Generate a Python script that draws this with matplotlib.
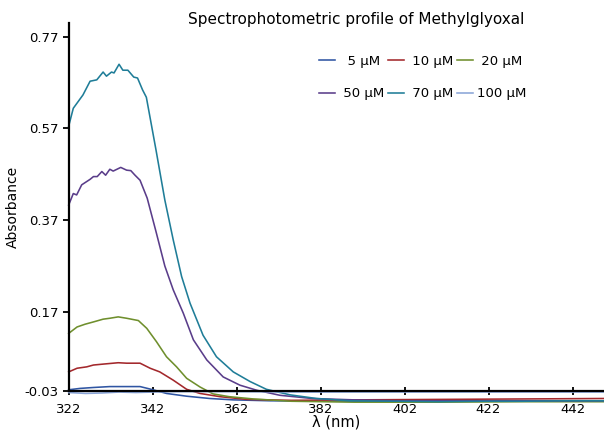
import matplotlib
matplotlib.use("Agg")
from matplotlib import pyplot as plt

# Dados (comprimento de onda em nm, absorbancia)
wl_5 = [322.0, 324.7, 327.9, 331.8, 335.8, 339.0, 342.1, 345.3, 350.1, 355.6, 361.2, 370, 385, 400, 420, 449.5]
abs_5 = [0.0, 0.003, 0.005, 0.007, 0.007, 0.007, 0.0, -0.008, -0.014, -0.019, -0.022, -0.024, -0.025, -0.025, -0.025, -0.025]

wl_10 = [322.0, 324.0, 326.3, 327.9, 330.2, 333.8, 335.8, 339.0, 341.4, 343.7, 346.9, 350.1, 353.3, 358.0, 364.4, 375, 390, 410, 430, 449.5]
abs_10 = [0.039, 0.047, 0.050, 0.054, 0.056, 0.059, 0.058, 0.058, 0.047, 0.039, 0.021, 0.001, -0.008, -0.015, -0.021, -0.023, -0.022, -0.021, -0.020, -0.019]

wl_20 = [322.0, 324.0, 325.9, 327.9, 330.2, 331.8, 333.8, 335.8, 338.6, 340.6, 342.9, 345.3, 347.7, 350.1, 353.3, 356.4, 360.2, 366, 375, 390, 410, 430, 449.5]
abs_20 = [0.123, 0.137, 0.143, 0.148, 0.154, 0.156, 0.159, 0.156, 0.151, 0.134, 0.105, 0.072, 0.050, 0.025, 0.006, -0.009, -0.015, -0.020, -0.025, -0.027, -0.027, -0.026, -0.026]

wl_50 = [322.0, 323.1, 323.9, 325.1, 327.1, 327.9, 328.8, 329.9, 330.8, 331.8, 332.6, 334.4, 335.8, 336.8, 337.8, 339.0, 340.7, 342.8, 344.9, 346.9, 349.3, 351.7, 354.9, 358.8, 362.8, 366.8, 372.3, 380, 390, 400, 420, 449.5]
abs_50 = [0.403, 0.428, 0.425, 0.447, 0.459, 0.465, 0.465, 0.476, 0.468, 0.481, 0.477, 0.485, 0.479, 0.478, 0.468, 0.457, 0.418, 0.345, 0.270, 0.218, 0.167, 0.109, 0.065, 0.028, 0.010, -0.001, -0.012, -0.019, -0.022, -0.024, -0.024, -0.024]

wl_70 = [322.0, 323.1, 325.4, 327.1, 328.7, 330.2, 331.0, 332.2, 332.8, 334.0, 334.9, 336.1, 337.5, 338.4, 339.6, 340.5, 341.4, 342.8, 344.9, 346.9, 348.9, 350.9, 354.0, 357.2, 361.2, 365.2, 369.1, 374.7, 381.0, 389, 400, 410, 420, 430, 440, 449.5]
abs_70 = [0.575, 0.614, 0.643, 0.673, 0.676, 0.693, 0.684, 0.693, 0.691, 0.710, 0.697, 0.697, 0.682, 0.680, 0.654, 0.638, 0.593, 0.523, 0.414, 0.327, 0.247, 0.189, 0.119, 0.072, 0.039, 0.018, 0.001, -0.011, -0.019, -0.024, -0.025, -0.026, -0.025, -0.025, -0.024, -0.024]

wl_100 = [322, 326, 330, 334, 338, 342, 346, 350, 360, 380, 400, 420, 449.5]
abs_100 = [-0.006, -0.008, -0.007, -0.005, -0.006, -0.005, -0.004, -0.004, -0.004, -0.005, -0.005, -0.005, -0.005]

rotulos = ['  5 µM', ' 10 µM', ' 20 µM', ' 50 µM', ' 70 µM', '100 µM']
cores = ['#2f55a3', '#a3282c', '#6f8f2d', '#5a3d8a', '#1f7d98', '#8aa5d8']

x_ticks = [322, 342, 362, 382, 402, 422, 442]
y_ticks = [-0.002, 0.17, 0.37, 0.57, 0.77]
y_tick_labels = ['-0.03', '0.17', '0.37', '0.57', '0.77']

series = [(wl_5, abs_5), (wl_10, abs_10), (wl_20, abs_20),
          (wl_50, abs_50), (wl_70, abs_70), (wl_100, abs_100)]

fig = plt.figure(figsize=(6.04, 4.32), dpi=100)
ax = fig.add_axes([0.1137, 0.0956, 0.8863, 0.8512])

linhas = []
for (wl, ab), cor, rot in zip(series, cores, rotulos):
    l, = ax.plot(wl, ab, color=cor, lw=1.15, label=rot, clip_on=False)
    linhas.append(l)

ax.set_xlim(322, 449.5)
ax.set_ylim(-0.002, 0.80)
ax.set_xticks(x_ticks)
ax.set_yticks(y_ticks)
ax.set_yticklabels(y_tick_labels)

ax.spines['top'].set_visible(False)
ax.spines['right'].set_visible(False)
ax.spines['left'].set_linewidth(1.6)
ax.spines['bottom'].set_linewidth(1.6)
ax.tick_params(axis='both', labelsize=9.5, width=1.3, length=4)
ax.tick_params(axis='x', direction='inout', length=6, pad=6)

ax.set_xlabel('λ (nm)', fontsize=10.5, labelpad=-1)
ax.set_ylabel('Absorbance', fontsize=10, labelpad=3)

fig.text(0.59, 0.955, 'Spectrophotometric profile of Methylglyoxal', ha='center', va='center', fontsize=11)

# ordem por linha na legenda (matplotlib preenche por coluna)
ordem = [0, 3, 1, 4, 2, 5]
leg = ax.legend([linhas[i] for i in ordem], [rotulos[i] for i in ordem], ncol=3,
                loc='upper left', bbox_to_anchor=(0.445, 0.945), frameon=False,
                fontsize=9.5, handlelength=1.2, handletextpad=0.3,
                columnspacing=0.3, labelspacing=1.45)

plt.savefig('out.png', dpi=100)
